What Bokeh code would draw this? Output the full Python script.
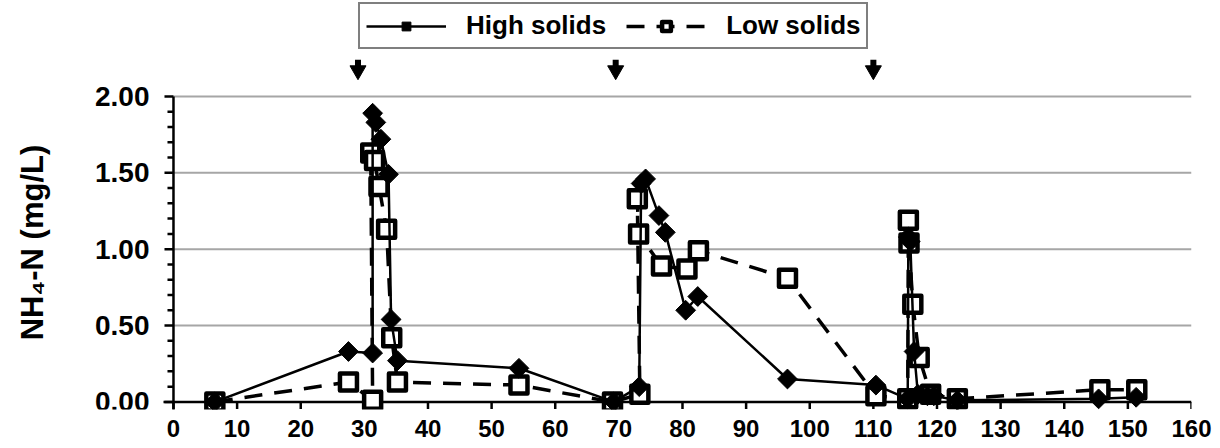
import numpy as np
from bokeh.plotting import figure
from bokeh.models import Range1d, FixedTicker, Legend, LegendItem
from bokeh.core.properties import value
from bokeh.embed import file_html
from bokeh.resources import INLINE

# ---- data ----
high_day = [6.5, 27.5, 31.3, 31.3, 31.8, 32.6, 33.8, 34.2, 35.2, 54.3,
            69.2, 73.2, 73.5, 74.2, 76.3, 77.3, 80.5, 82.4, 96.5, 110.4,
            115.4, 115.5, 115.8, 116.4, 117.0, 118.5, 119.5, 123.2, 145.4, 151.3]
high_nh4 = [0.00, 0.33, 0.32, 1.89, 1.83, 1.72, 1.49, 0.54, 0.27, 0.22,
            0.00, 0.10, 1.43, 1.46, 1.22, 1.11, 0.60, 0.69, 0.15, 0.11,
            0.02, 1.08, 1.05, 0.33, 0.05, 0.04, 0.04, 0.01, 0.02, 0.03]

low_day = [6.5, 27.5, 31.3, 31.0, 31.6, 32.3, 33.5, 34.3, 35.2, 54.3,
           69.0, 73.3, 72.9, 73.1, 76.7, 80.7, 82.5, 96.5, 110.4,
           115.4, 115.5, 115.6, 116.2, 117.2, 119.0, 123.2, 145.6, 151.4]
low_nh4 = [0.00, 0.13, 0.01, 1.63, 1.58, 1.41, 1.13, 0.42, 0.13, 0.11,
           0.00, 0.05, 1.33, 1.10, 0.89, 0.87, 0.99, 0.81, 0.04,
           0.02, 1.19, 1.04, 0.64, 0.29, 0.05, 0.02, 0.08, 0.08]

feed_days = [29.0, 69.5, 110.0]
x_ticks = list(range(0, 161, 10))
y_ticks = [0.0, 0.5, 1.0, 1.5, 2.0]
y_minor = [0.1, 0.2, 0.3, 0.4, 0.6, 0.7, 0.8, 0.9, 1.1, 1.2, 1.3, 1.4, 1.6, 1.7, 1.8, 1.9]
y_tick_labels = ["0.00", "0.50", "1.00", "1.50", "2.00"]
labels = ["High solids", "Low solids"]
y_title = "NH\u2084-N (mg/L)"

# ---- layout constants (pixels) ----
FONT = "Liberation Sans"
W, H = 1220, 448
RIGHT_BORDER, BOTTOM_BORDER = 29, 39
X0_PX = 173.0          # screen x of day 0
PX_X = 6.3626          # pixels per day
PX_Y = 152.73          # pixels per mg/L
Y0_PX = 401.4          # screen y of 0 mg/L
x_start = 160 - (W - RIGHT_BORDER) / PX_X
y_start = -(H - BOTTOM_BORDER - Y0_PX) / PX_Y
y_end = y_start + (H - BOTTOM_BORDER) / PX_Y

def sx(px):  # screen x -> data x
    return (px - X0_PX) / PX_X

def sy(py):  # screen y -> data y
    return (Y0_PX - py) / PX_Y

p = figure(width=W, height=H, output_backend="svg", toolbar_location=None,
           x_range=Range1d(x_start, 160), y_range=Range1d(y_start, y_end),
           y_axis_location=None,
           min_border_left=0, min_border_right=RIGHT_BORDER, min_border_top=0,
           min_border_bottom=BOTTOM_BORDER)
p.outline_line_color = None
p.background_fill_color = "white"
p.xgrid.visible = False
p.ygrid.visible = False

# horizontal grid lines (from the y tick list)
grid_y = y_ticks[1:]
p.segment(x0=[0] * len(grid_y), y0=grid_y, x1=[max(x_ticks)] * len(grid_y), y1=grid_y,
          line_color="#a6a6a6", line_width=2)

# x axis: labels from Bokeh, line + ticks drawn at y = 0
xa = p.xaxis[0]
xa.ticker = FixedTicker(ticks=x_ticks)
xa.axis_line_color = None
xa.major_tick_line_color = None
xa.minor_tick_line_color = None
xa.major_tick_out = 0
xa.major_tick_in = 0
xa.major_label_standoff = 10
xa.major_label_text_font = FONT
xa.major_label_text_font_style = "bold"
xa.major_label_text_font_size = "24px"
xa.major_label_text_color = "black"

p.segment(x0=[sx(X0_PX - 10)], y0=[0], x1=[max(x_ticks)], y1=[0],
          line_color="black", line_width=2.5)
p.segment(x0=x_ticks, y0=[0] * len(x_ticks), x1=x_ticks,
          y1=[sy(Y0_PX + 7)] * len(x_ticks), line_color="black", line_width=2.5)

# y axis line, ticks, tick labels, title
p.segment(x0=[0], y0=[sy(Y0_PX + 9)], x1=[0], y1=[max(y_ticks)],
          line_color="black", line_width=2.5)
p.segment(x0=[0] * len(y_ticks), y0=y_ticks, x1=[sx(X0_PX - 9)] * len(y_ticks), y1=y_ticks,
          line_color="black", line_width=2.5)
p.segment(x0=[0] * len(y_minor), y0=y_minor, x1=[sx(X0_PX - 6)] * len(y_minor), y1=y_minor,
          line_color="black", line_width=2.5)
p.text(x=[sx(149)] * len(y_ticks), y=y_ticks, text=y_tick_labels,
       text_align="right", text_baseline="middle", text_color="black",
       text_font=value(FONT), text_font_style="bold", text_font_size="28px")
p.text(x=[sx(32)], y=[sy(242)], text=[y_title], angle=np.pi / 2,
       text_align="center", text_baseline="middle", text_color="black",
       text_font=value(FONT), text_font_style="bold", text_font_size="31px")

# series
ll = p.line(low_day, low_nh4, line_color="black", line_width=3.5, line_dash="18 12")
ls = p.scatter(low_day, low_nh4, marker="square", size=17, fill_color="white",
               line_color="black", line_width=4.5, line_join="round")
hl = p.line(high_day, high_nh4, line_color="black", line_width=2.5)
hs = p.scatter(high_day, high_nh4, marker="square", angle=np.pi / 4, size=14,
               fill_color="black", line_color="black", line_width=1)

# arrows marking feeding events (above the plotting area)
arrow_head_y = 2.0 + 26 / PX_Y
p.segment(x0=feed_days, y0=[arrow_head_y + 0.07] * len(feed_days), x1=feed_days,
          y1=[arrow_head_y + 0.015] * len(feed_days), line_color="black", line_width=6)
p.scatter(feed_days, [arrow_head_y] * len(feed_days), marker="inverted_triangle", size=16,
          fill_color="black", line_color="black")

legend = Legend(items=[LegendItem(label=labels[0], renderers=[hl, hs]),
                       LegendItem(label=labels[1], renderers=[ll, ls])],
                orientation="horizontal", location=(358, 360),
                border_line_color="black", border_line_width=2,
                label_text_font=FONT, label_text_font_style="bold",
                label_text_font_size="26px", label_text_color="black",
                glyph_width=80, glyph_height=22,
                label_standoff=20, spacing=20, padding=6, margin=0)
p.add_layout(legend)

open("out.html", "w").write(file_html(p, INLINE))
